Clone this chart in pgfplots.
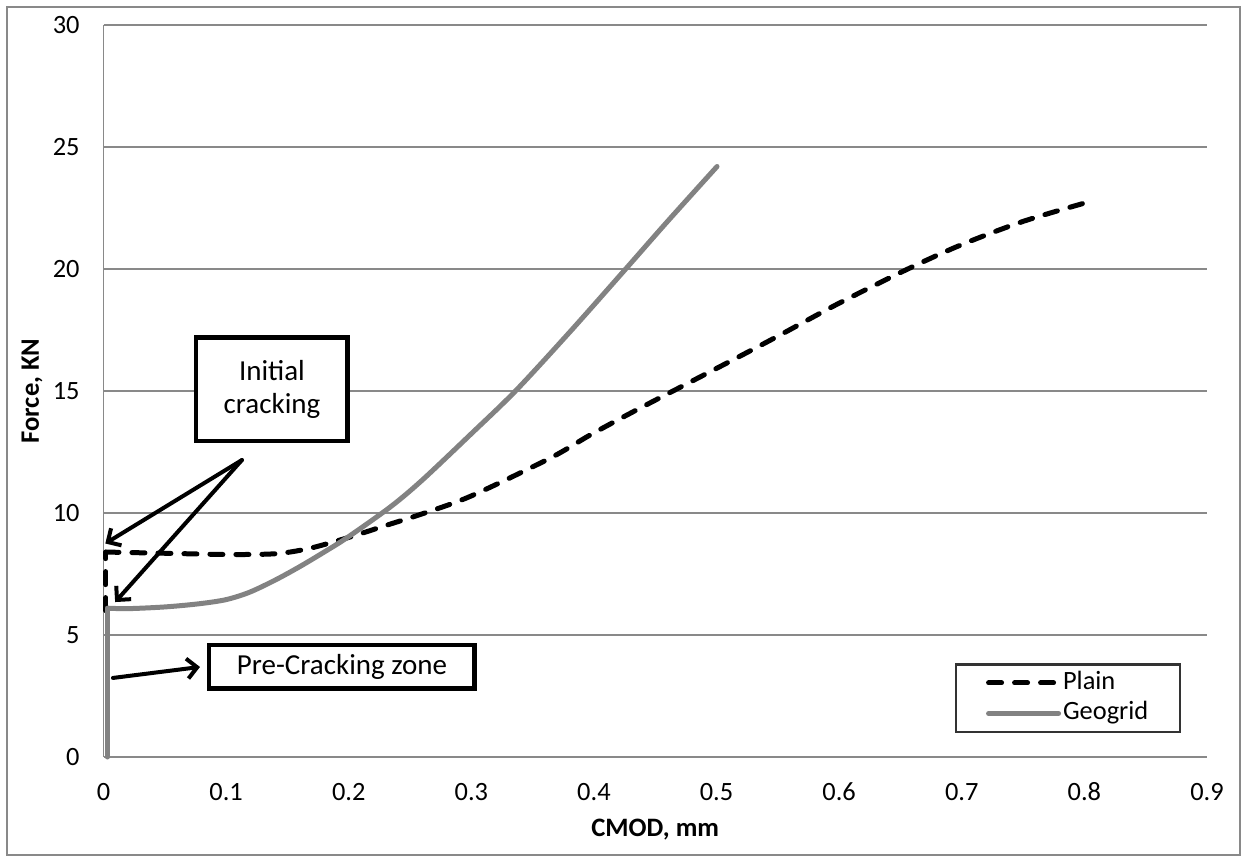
\documentclass[border=0pt]{standalone}
\usepackage{pgfplots}
\pgfplotsset{compat=1.18}
\usepackage{pgfplotstable}
\usepackage{fontspec}
\setmainfont{Carlito}
\usetikzlibrary{arrows.meta,shadows}

\definecolor{gridgray}{HTML}{898989}
\definecolor{geogray}{HTML}{828282}

\pgfplotstableread{
x y
0.002 6.0
0.002 8.4
}\plainpre

\pgfplotstableread{
x y
0.002 8.4
0.02 8.38
0.05 8.35
0.1 8.3
0.14 8.33
0.168 8.55
0.2 9.0
0.231 9.5
0.262 10.0
0.3 10.7
0.3643 12.25
0.397 13.2
0.432 14.15
0.476 15.3
0.52 16.45
0.552 17.3
0.6 18.6
0.656 20.0
0.7 21.0
0.75 21.95
0.8 22.7
}\plain

\pgfplotstableread{
x y
0.003 0
0.003 6.1
}\geopre

\pgfplotstableread{
x y
0.003 6.1
0.02 6.08
0.05 6.15
0.078 6.28
0.1 6.45
0.119 6.75
0.14 7.25
0.16 7.8
0.18 8.4
0.199 9.0
0.234 10.25
0.26 11.35
0.3 13.25
0.336 15.0
0.38 17.4
0.425 19.95
0.46 21.95
0.5004 24.2
}\geogrid

\begin{document}
\begin{tikzpicture}
\path[use as bounding box] (-51.75bp,-50bp) rectangle (570.75bp,378.5bp);
\draw[gridgray, line width=0.75bp] (-48.25bp,-49bp) rectangle (568.25bp,375bp);
\begin{axis}[
  at={(0,0)}, anchor=south west,
  scale only axis, width=551.75bp, height=366bp,
  xmin=0, xmax=0.9, ymin=0, ymax=30,
  clip=false,
  xtick={0,0.1,0.2,0.3,0.4,0.5,0.6,0.7,0.8,0.9},
  xticklabels={0,0.1,0.2,0.3,0.4,0.5,0.6,0.7,0.8,0.9},
  ytick={0,5,10,15,20,25,30},
  yticklabels={0,5,10,15,20,25,30},
  axis x line*=bottom, axis y line*=left,
  axis line style={gridgray, line width=0.75bp, -},
  ymajorgrids, grid style={gridgray, line width=0.75bp},
  major tick length=0pt,
  tick label style={font=\fontsize{13.2bp}{15.5bp}\selectfont},
  xticklabel style={anchor=center, yshift=-17.5bp},
  yticklabel style={anchor=east, inner sep=0pt, xshift=-11.75bp},
  xlabel={CMOD, mm}, ylabel={Force, KN},
  label style={font=\fontsize{13.3bp}{15.5bp}\selectfont\bfseries},
  xlabel style={at={(axis description cs:0.5,0)}, anchor=center, yshift=-36.5bp},
  ylabel style={at={(axis description cs:-0.0648,0.5)}, anchor=center},
  legend style={at={(0.7716,0.033)}, anchor=south west,
    draw=black!80, line width=1.1bp, fill=white,
    inner xsep=15bp, inner ysep=2bp, row sep=1bp,
    nodes={inner sep=1bp, text height=9.3bp, text depth=3bp},
    font=\fontsize{13.2bp}{15.5bp}\selectfont},
  legend cell align=left,
  legend image code/.code={\draw[#1] (0bp,0bp) -- (35bp,0bp);},
]
\addplot[black, line width=2.5bp, line cap=round, line join=round, smooth, tension=0.5,
  dash pattern=on 6.5bp off 6.5bp] table[x=x,y=y] {\plain};
\addlegendentry{Plain}
\addplot[geogray, line width=2.5bp, line cap=round, line join=round, smooth, tension=0.5] table[x=x,y=y] {\geogrid};
\addlegendentry{Geogrid}
\addplot[black, line width=2.5bp, line cap=round, dash pattern=on 6.5bp off 6.5bp, forget plot] table[x=x,y=y] {\plainpre};
\addplot[geogray, line width=2.5bp, line cap=round, forget plot] table[x=x,y=y] {\geopre};

\node[draw=black, line width=2.25bp, fill=white, minimum width=75.75bp,
  minimum height=51.75bp, align=center, inner sep=0pt,
  font=\fontsize{14.5bp}{16.5bp}\selectfont,
  drop shadow={shadow xshift=0.8bp, shadow yshift=-0.8bp, opacity=0.25}]
  at (axis cs:0.1374,15.08) {Initial\\cracking};
\node[draw=black, line width=2.25bp, fill=white, minimum width=132.75bp,
  minimum height=21.75bp, inner sep=0pt,
  font=\fontsize{14.5bp}{16.5bp}\selectfont,
  drop shadow={shadow xshift=0.8bp, shadow yshift=-0.8bp, opacity=0.25}]
  at (axis cs:0.1945,3.69) {Pre-Cracking zone};

\draw[line width=2bp, line cap=round, -{Straight Barb[length=5bp,width=10bp]}]
  (axis cs:0.1129,12.17) -- (axis cs:0.0015,8.75);
\draw[line width=2bp, line cap=round, -{Straight Barb[length=5bp,width=10bp]}]
  (axis cs:0.1129,12.17) -- (axis cs:0.0095,6.35);
\draw[line width=2bp, line cap=round, -{Straight Barb[length=5bp,width=10bp]}]
  (axis cs:0.0077,3.24) -- (axis cs:0.0787,3.69);
\end{axis}
\end{tikzpicture}
\end{document}
